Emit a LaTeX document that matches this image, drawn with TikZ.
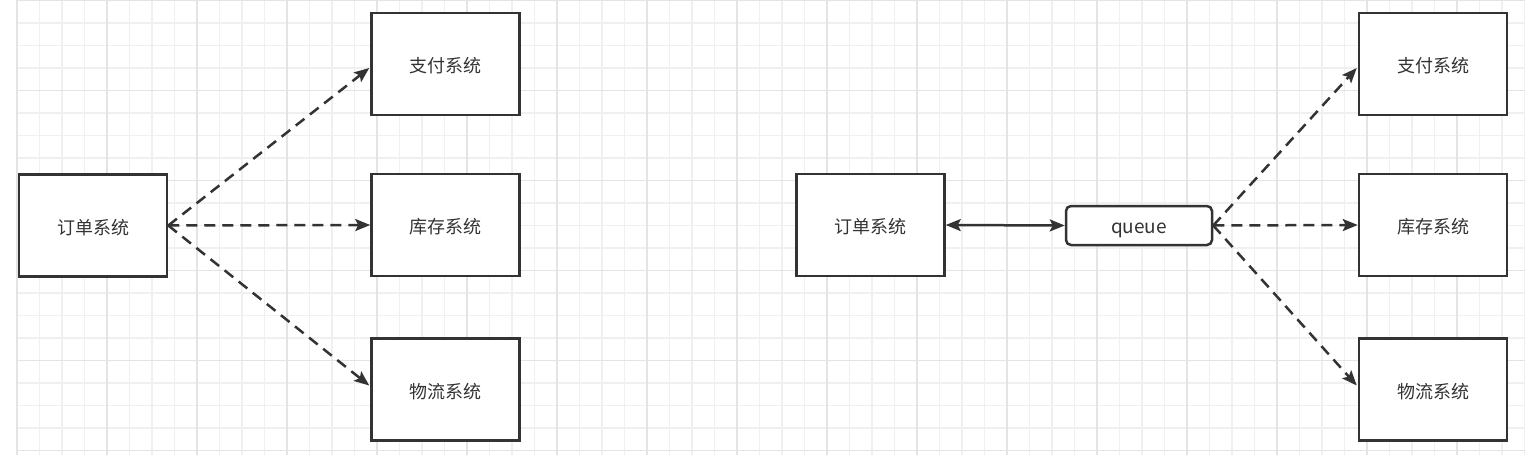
\documentclass[tikz,border=0pt]{standalone}
\usepackage{fontspec}
\setmainfont{Noto Sans CJK SC}
\usetikzlibrary{arrows.meta,calc}
\definecolor{ink}{HTML}{333333}
\definecolor{gridminor}{HTML}{F0F0F0}
\definecolor{gridmajor}{HTML}{E4E4E4}
\tikzset{
  sysbox/.style={draw=ink, line width=2.5pt, fill=white, minimum width=148pt, minimum height=102pt, inner sep=0pt, text=ink, font=\fontsize{18}{20}\selectfont, text height=18pt, text depth=0.4pt},
  qbox/.style={draw=ink, line width=2.5pt, fill=white, rounded corners=5pt, minimum width=146pt, minimum height=39pt, inner sep=0pt, text=ink, font=\fontsize{19}{20}\selectfont, text height=16pt, text depth=0.8pt},
  dasharrow/.style={draw=ink, line width=2.5pt, dash pattern=on 11pt off 7pt, -{Stealth[length=15pt,width=12pt,inset=3pt]}},
  solidarrow/.style={draw=ink, line width=2.5pt, {Stealth[length=15pt,width=12pt,inset=3pt]}-{Stealth[length=15pt,width=12pt,inset=3pt]}}
}
\begin{document}
\begin{tikzpicture}[x=1pt,y=-1pt]
\useasboundingbox (0,0) rectangle (1540,461);
\fill[white] (0,0) rectangle (1540,461);
% grid
\foreach \i in {0,...,67} {
  \draw[gridminor, line width=1.1pt] ({17+22.5*\i},0) -- ({17+22.5*\i},455);
}
\foreach \j in {0,...,20} {
  \draw[gridminor, line width=1.1pt] (17,{0.5+22.5*\j}) -- (1525,{0.5+22.5*\j});
}
\foreach \i in {0,4,...,64} {
  \draw[gridmajor, line width=1.1pt] ({17+22.5*\i},0) -- ({17+22.5*\i},455);
}
\foreach \j in {0,4,...,20} {
  \draw[gridmajor, line width=1.1pt] (17,{0.5+22.5*\j}) -- (1525,{0.5+22.5*\j});
}
% left diagram
\node[sysbox] (lorder) at (93,225.5) {订单系统};
\node[sysbox] (lpay) at (445.5,64) {支付系统};
\node[sysbox] (lstock) at (445.5,225) {库存系统};
\node[sysbox] (lship) at (445.5,389.5) {物流系统};
\coordinate (lpayin) at ($(lpay.west)+(-1,4)$);
\coordinate (lshipin) at ($(lship.west)+(-1,-4)$);
\draw[dasharrow] (lorder.east) -- (lpayin);
\draw[dasharrow] (lorder.east) -- (lstock.west);
\draw[dasharrow] (lorder.east) -- (lshipin);
% right diagram
\node[sysbox] (rorder) at (870.5,225) {订单系统};
\node[qbox] (queue) at (1139,225.5) {queue};
\node[sysbox] (rpay) at (1433,64) {支付系统};
\node[sysbox] (rstock) at (1433,225) {库存系统};
\node[sysbox] (rship) at (1433,389.5) {物流系统};
\coordinate (rpayin) at ($(rpay.west)+(-1,4)$);
\coordinate (rshipin) at ($(rship.west)+(-1,-4)$);
\draw[solidarrow] (rorder.east) -- (queue.west);
\draw[dasharrow] (queue.east) -- (rpayin);
\draw[dasharrow] (queue.east) -- (rstock.west);
\draw[dasharrow] (queue.east) -- (rshipin);
\end{tikzpicture}
\end{document}
